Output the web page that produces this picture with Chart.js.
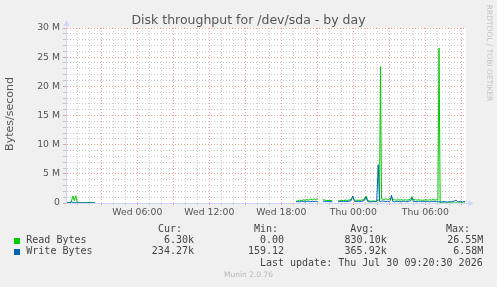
<!DOCTYPE html>
<html><head><meta charset="utf-8">
<script src="https://cdn.jsdelivr.net/npm/chart.js@4.4.1/dist/chart.umd.min.js"></script>
<style>
html,body{margin:0;padding:0;background:#f0f0f0;}
#wrap{position:relative;width:497px;height:287px;overflow:hidden;background:#f0f0f0;}
#c{position:absolute;left:0;top:0;}
.t{position:absolute;white-space:pre;}
.mono{font-family:'DejaVu Sans Mono',monospace;font-size:10px;line-height:12px;color:#444;}
.sq{position:absolute;width:6px;height:6px;}
</style></head><body>
<div id="wrap">
<canvas id="c" width="497" height="287"></canvas>
<div class="t" id="title" style="left:0;width:497px;text-align:center;top:12px;font:12.5px 'DejaVu Sans';line-height:15px;color:#555;"></div>
<div class="t" id="ytitle" style="left:-50px;width:120px;text-align:center;top:107px;font:11px 'DejaVu Sans';line-height:14px;color:#555;transform:rotate(-90deg);"></div>
<div class="t" id="rrd" style="left:439px;width:100px;text-align:center;top:48px;font:7.5px 'DejaVu Sans';line-height:10px;color:#c4c4c4;transform:rotate(90deg);"></div>
<div class="t" id="munin" style="left:0;width:497px;text-align:center;top:270px;font:7.5px 'DejaVu Sans';line-height:10px;color:#b8b8b8;"></div>
<div id="legend"></div>
</div>
<script>
// ---- data (time in hours since Wed 00:00, values in MB/s) ----
const hours = [
  0.1,0.3,0.5,0.62,0.75,0.87,1.0,1.4,1.8,2.1,2.25,2.47,2.6,
  19.23,19.38,19.53,19.68,19.83,19.98,20.13,20.28,20.43,20.58,20.73,20.88,21.03,21.2,
  21.45,21.6,21.75,21.9,22.05,22.25,22.5,
  22.73,22.88,23.03,23.18,23.33,23.48,23.63,23.8,23.95,24.1,24.25,24.4,24.55,24.7,24.88,25.06,
  25.2,25.35,25.5,25.65,25.8,25.95,26.08,26.18,26.27,26.35,26.44,26.56,26.7,26.85,27.0,27.1,27.18,27.28,
  27.43,27.58,27.73,27.88,28.03,28.18,28.33,28.48,28.63,28.78,28.89,29.0,29.15,29.3,29.45,29.6,29.75,
  29.9,30.05,30.2,30.35,30.5,30.65,30.8,30.95,31.05,31.14,31.24,31.4,31.55,31.7,31.85,32.0,32.15,32.3,
  32.45,32.56,32.67,32.8,32.95,33.1,33.2,33.31
];
const readMB = [
  0.0,0.02,0.15,1.2,0.4,1.25,0.05,0.02,0.01,0.15,0.01,0.01,null,
  0.3,0.35,0.5,0.4,0.55,0.45,0.6,0.5,0.65,0.55,0.7,0.6,0.75,null,
  0.6,0.5,0.45,0.4,0.45,0.35,null,
  0.35,0.4,0.45,0.4,0.5,0.45,0.5,0.6,0.9,0.5,0.45,0.5,0.45,0.5,0.6,1.2,
  0.4,0.35,0.3,0.35,0.3,0.35,0.5,0.6,23.4,0.7,0.65,0.6,0.7,0.6,0.7,0.75,1.1,0.6,
  0.55,0.5,0.55,0.5,0.55,0.5,0.55,0.5,0.55,0.7,1.1,0.6,0.55,0.5,0.55,0.5,0.45,
  0.5,0.55,0.5,0.55,0.5,0.6,0.5,0.55,0.5,26.55,0.05,0.02,0.01,0.02,0.0,0.01,0.02,0.01,
  0.0,0.01,0.0,0.01,0.02,0.01,0.0,0.0063
];
const writeMB = [
  0.03,0.05,0.2,0.1,0.05,0.05,0.03,0.02,0.02,0.02,0.02,0.02,null,
  0.2,0.25,0.2,0.3,0.25,0.2,0.3,0.25,0.2,0.3,0.25,0.3,0.25,null,
  0.3,0.3,0.25,0.3,0.25,0.2,null,
  0.2,0.25,0.3,0.25,0.3,0.25,0.3,0.35,1.2,0.3,0.25,0.3,0.25,0.3,0.35,1.0,
  0.25,0.2,0.2,0.25,0.2,0.3,6.58,0.3,0.25,0.3,0.35,0.3,0.25,0.3,0.25,0.5,1.35,0.3,
  0.2,0.25,0.3,0.2,0.25,0.3,0.25,0.2,0.3,0.4,0.9,0.3,0.25,0.2,0.3,0.25,0.2,
  0.25,0.3,0.25,0.2,0.25,0.3,0.25,0.2,0.25,0.2,0.15,0.2,0.25,0.2,0.15,0.25,0.2,0.3,
  0.35,0.5,0.25,0.2,0.3,0.2,0.25,0.234
];
const seriesNames = ['Read Bytes','Write Bytes'];
const seriesColors = ['#00cc00','#0066b3'];
const xLabelHours = [6,12,18,24,30];
const xLabels = ['Wed 06:00','Wed 12:00','Wed 18:00','Thu 00:00','Thu 06:00'];
const yLabelValues = [0,5,10,15,20,25,30];
const yLabels = ['0','5 M','10 M','15 M','20 M','25 M','30 M'];
const statHeaders = ['Cur:','Min:','Avg:','Max:'];
const readStats = ['6.30k','0.00','830.10k','26.55M'];
const writeStats = ['234.27k','159.12','365.92k','6.58M'];
const lastUpdate = 'Last update: Thu Jul 30 09:20:30 2026';
const titleText = 'Disk throughput for /dev/sda - by day';
const yTitleText = 'Bytes/second';

// ---- text overlays ----
document.getElementById('title').textContent = titleText;
document.getElementById('ytitle').textContent = yTitleText;
document.getElementById('rrd').textContent = 'RRDTOOL / TOBI OETIKER';
document.getElementById('munin').textContent = 'Munin 2.0.76';
const leg = document.getElementById('legend');
function addText(txt, right, top){
  const d = document.createElement('div');
  d.className = 't mono';
  d.style.right = (497 - right) + 'px';
  d.style.top = top + 'px';
  d.textContent = txt;
  leg.appendChild(d);
}
const headRight = [182, 278, 374.3, 470];
const valRight = [194, 284, 386.7, 483.3];
statHeaders.forEach((h,i)=>addText(h, headRight[i], 222.8));
[readStats, writeStats].forEach((row, r)=>{
  const top = 233.6 + r*11.6;
  const sq = document.createElement('div');
  sq.className = 'sq';
  sq.style.left = '14px'; sq.style.top = (top + 4) + 'px';
  sq.style.background = seriesColors[r];
  leg.appendChild(sq);
  const n = document.createElement('div');
  n.className = 't mono'; n.style.left = '26.3px'; n.style.top = top + 'px';
  n.textContent = seriesNames[r];
  leg.appendChild(n);
  row.forEach((v,i)=>addText(v, valRight[i], top));
});
addText(lastUpdate, 482.7, 257.2);

// ---- chart ----
const pts = arr => hours.map((h,i)=>({x:h, y:arr[i]}));
const MINOR = 'rgba(140,140,140,0.45)';
const MAJOR = 'rgba(222,48,33,0.45)';
const AXIS = '#CFD6F8';
const muninPlugin = {
  id:'muninDecor',
  beforeDraw(chart){
    const {ctx, chartArea:a} = chart;
    ctx.save(); ctx.fillStyle = '#ffffff';
    ctx.fillRect(a.left, a.top, a.right - a.left, a.bottom - a.top);
    ctx.restore();
  },
  afterDraw(chart){
    const {ctx, chartArea:a} = chart;
    ctx.save();
    ctx.strokeStyle = AXIS; ctx.fillStyle = AXIS; ctx.lineWidth = 1;
    ctx.beginPath();
    ctx.moveTo(a.left + 0.5, a.bottom); ctx.lineTo(a.left + 0.5, a.top - 4);
    ctx.moveTo(a.left, a.bottom + 0.5); ctx.lineTo(a.right + 4, a.bottom + 0.5);
    ctx.stroke();
    ctx.beginPath();
    ctx.moveTo(a.left + 0.5, a.top - 8); ctx.lineTo(a.left - 2.5, a.top - 2); ctx.lineTo(a.left + 3.5, a.top - 2); ctx.closePath();
    ctx.fill();
    ctx.beginPath();
    ctx.moveTo(a.right + 8, a.bottom + 0.5); ctx.lineTo(a.right + 2, a.bottom - 2.5); ctx.lineTo(a.right + 2, a.bottom + 3.5); ctx.closePath();
    ctx.fill();
    ctx.restore();
  }
};
const tickFont = {family:'DejaVu Sans', size:9.3};
new Chart(document.getElementById('c'), {
  type:'line',
  data:{ datasets:[
    {label:seriesNames[0], data:pts(readMB), borderColor:seriesColors[0], backgroundColor:seriesColors[0], borderWidth:1, pointRadius:0, tension:0, spanGaps:false, order:1},
    {label:seriesNames[1], data:pts(writeMB), borderColor:seriesColors[1], backgroundColor:seriesColors[1], borderWidth:1, pointRadius:0, tension:0, spanGaps:false, order:0}
  ]},
  options:{
    responsive:false, animation:false, devicePixelRatio:1,
    layout:{padding:{left:0, top:28, right:31, bottom:0}},
    plugins:{legend:{display:false}, tooltip:{enabled:false}, title:{display:false}},
    scales:{
      x:{
        type:'linear', min:0.06, max:33.39,
        afterBuildTicks(s){ const t=[]; for(let h=1; h<=33; h++) t.push({value:h}); s.ticks = t; },
        afterFit(s){ s.height = 84; },
        ticks:{autoSkip:false, maxRotation:0, minRotation:0, padding:2, color:'#555', font:tickFont,
          callback(v){ const i = xLabelHours.indexOf(v); return i >= 0 ? xLabels[i] : ''; }},
        grid:{color(c){ return c.tick && c.tick.value % 3 === 0 ? MAJOR : MINOR; }, tickLength:2, lineWidth:1},
        border:{display:true, color:AXIS, dash:[1,2]}
      },
      y:{
        type:'linear', min:0, max:30,
        afterBuildTicks(s){ const t=[]; for(let v=0; v<=30; v++) t.push({value:v}); s.ticks = t; },
        afterFit(s){ s.width = 66; },
        ticks:{autoSkip:false, padding:3, color:'#555', font:tickFont,
          callback(v){ const i = yLabelValues.indexOf(v); return i >= 0 ? yLabels[i] : ''; }},
        grid:{color(c){ return c.tick && c.tick.value % 5 === 0 ? MAJOR : MINOR; }, tickLength:3, lineWidth:1},
        border:{display:true, color:AXIS, dash:[1,2]}
      }
    }
  },
  plugins:[muninPlugin]
});
</script>
</body></html>
